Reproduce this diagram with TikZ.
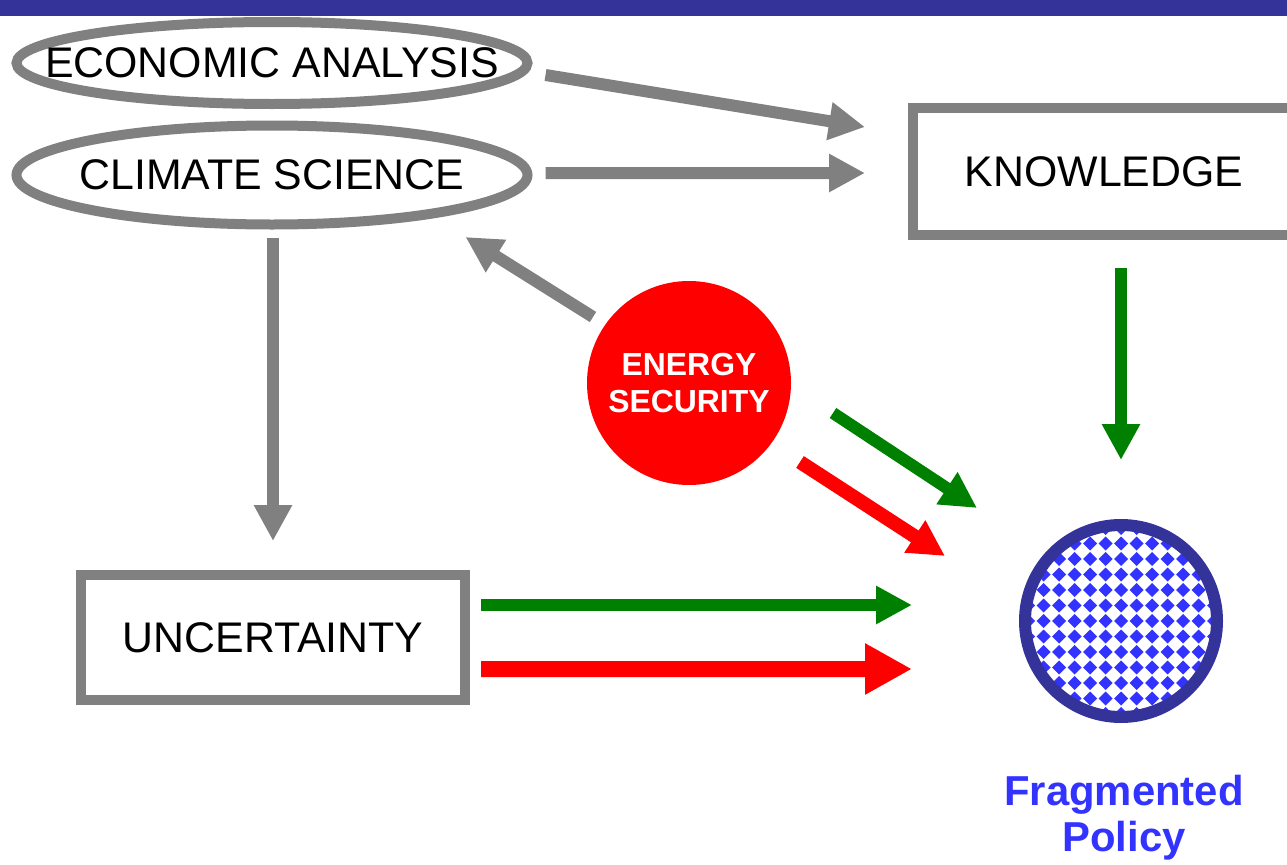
\documentclass[tikz,border=0pt]{standalone}
\usepackage{fontspec}
\setmainfont{Liberation Sans}
\usetikzlibrary{arrows.meta,shapes.geometric}
\definecolor{barblue}{RGB}{51,51,153}
\definecolor{patblue}{RGB}{51,51,255}
\definecolor{ggray}{RGB}{128,128,128}
\definecolor{ggreen}{RGB}{0,128,0}
\definecolor{rred}{RGB}{255,0,0}
\tikzset{
  ovalbox/.style={ellipse,draw=ggray,line width=10bp,inner sep=0pt,minimum width=511bp},
  rectbox/.style={rectangle,draw=ggray,line width=10bp,inner sep=0pt,font=\fontsize{43}{50}\selectfont},
  lbl/.style={font=\fontsize{43}{50}\selectfont,inner sep=0pt},
  grayarrow/.style={draw=ggray,line width=12bp,-{Triangle[length=36bp,width=36bp]}},
  greenarrow/.style={draw=ggreen,line width=12bp,-{Triangle[length=36bp,width=36bp]}},
  reddiag/.style={draw=rred,line width=14bp,-{Triangle[length=36bp,width=36bp]}},
  redarrow/.style={draw=rred,line width=16bp,-{Triangle[length=47bp,width=48bp]}},
}
\begin{document}
\begin{tikzpicture}[x=1bp,y=-1bp]
\useasboundingbox (0,0) rectangle (1287,865);
\fill[barblue] (0,0) rectangle (1287,16);
% ellipses
\node[ovalbox,minimum height=82bp] (ea) at (272,63) {};
\node[lbl] (eat) at (ea.center) {ECONOMIC ANALYSIS};
\node[ovalbox,minimum height=99bp] (cs) at (272,175) {};
\node[lbl] (cst) at (cs.center) {CLIMATE SCIENCE};
% boxes
\node[rectbox,minimum width=382bp,minimum height=127bp] (kn) at (1104,171.5) {KNOWLEDGE};
\node[rectbox,minimum width=384bp,minimum height=125bp] (unc) at (273,637.5) {UNCERTAINTY};
% energy security
\node[circle,fill=rred,minimum size=204bp,inner sep=0pt,text=white,align=center,
      font=\bfseries\fontsize{32}{38}\selectfont] (es) at (689,383) {ENERGY\\SECURITY};
% fragmented policy
\node[circle,draw=barblue,line width=12bp,minimum size=192bp,inner sep=0pt,
  path picture={
    \foreach \i in {-7,...,7}{
      \foreach \j in {-7,...,7}{
        \fill[patblue] ([shift={(\i*15.5bp+7bp,\j*15.5bp)}]path picture bounding box.center)
          -- ++(-7bp,7bp) -- ++(-7bp,-7bp) -- ++(7bp,-7bp) -- cycle;
      }
    }
  }] (fp) at (1121,621) {};
\node[align=center,text=patblue,font=\bfseries\fontsize{42}{46}\selectfont,inner sep=0pt] (fpt) at (1124,818) {Fragmented\\Policy};
% connectors
\draw[grayarrow] ([shift={(13,12)}]ea.east) -- ([shift={(-43,-44.5)}]kn.west);
\draw[grayarrow] ([shift={(13,-2)}]cs.east) -- ([shift={(-43,1.5)}]kn.west);
\draw[grayarrow] ([shift={(1,8)}]cs.south) -- ([shift={(0,-29)}]unc.north);
\draw[grayarrow] ([shift={(-96,-66)}]es.center) -- ([shift={(-67,62)}]cs.east);
\draw[greenarrow] ([shift={(17,28)}]kn.south) -- ([shift={(0,-59)}]fp.north);
\draw[greenarrow] ([shift={(144,30)}]es.center) -- ([shift={(-144,-113)}]fp.center);
\draw[reddiag] ([shift={(111,79)}]es.center) -- ([shift={(-176,-65)}]fp.center);
\draw[greenarrow] ([shift={(11,-32.5)}]unc.east) -- ([shift={(-209,-16)}]fp.center);
\draw[redarrow] ([shift={(11,31.5)}]unc.east) -- ([shift={(-209,48)}]fp.center);
\end{tikzpicture}
\end{document}
